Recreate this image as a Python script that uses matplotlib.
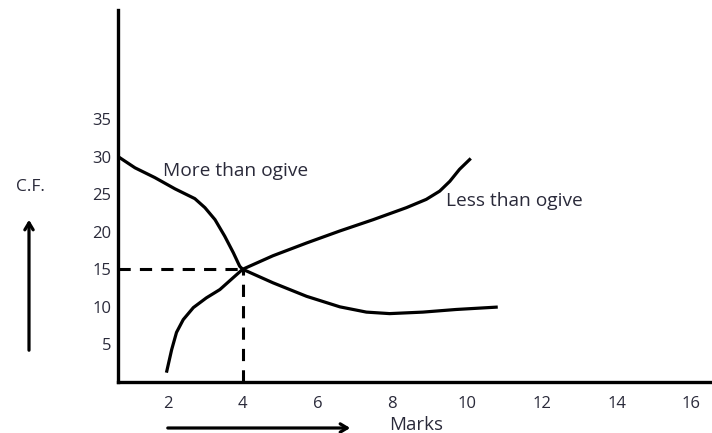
import matplotlib.pyplot as plt
from matplotlib.patches import FancyArrowPatch

# curve points (marks, cumulative frequency)
more_x = [0.665, 1.12, 1.65, 2.19, 2.72, 2.99, 3.26, 3.52, 3.75, 3.92, 4.0,
          4.81, 5.71, 6.6, 7.31, 7.93, 8.82, 9.71, 10.78]
more_y = [30.0, 28.5, 27.2, 25.7, 24.4, 23.2, 21.6, 19.4, 17.2, 15.4, 15.0,
          13.2, 11.4, 10.0, 9.3, 9.1, 9.3, 9.65, 9.96]
less_x = [1.97, 2.10, 2.23, 2.41, 2.68, 3.03, 3.39, 3.75, 4.0, 4.81, 5.71,
          6.6, 7.49, 8.38, 8.91, 9.27, 9.54, 9.80, 10.07]
less_y = [1.45, 4.3, 6.6, 8.3, 9.9, 11.2, 12.3, 13.9, 15.0, 16.8, 18.5,
          20.1, 21.6, 23.2, 24.3, 25.4, 26.7, 28.3, 29.6]
median_x, median_y = 4.0, 15.0

x_ticks = [2, 4, 6, 8, 10, 12, 14, 16]
y_ticks = [5, 10, 15, 20, 25, 30, 35]

txt = '#2a2a3a'
plt.rcParams['font.family'] = ['Open Sans', 'DejaVu Sans']

fig = plt.figure(figsize=(7.12, 4.33), dpi=100)
ax = fig.add_axes([118 / 712, 51 / 433, 592 / 712, 372 / 433])

ax.plot(more_x, more_y, color='black', lw=2.3, solid_joinstyle='round')
ax.plot(less_x, less_y, color='black', lw=2.3, solid_joinstyle='round')
ax.plot([0.665, median_x], [median_y, median_y], color='black', lw=2.2, ls=(0, (4, 3)))
ax.plot([median_x, median_x], [0, median_y], color='black', lw=2.2, ls=(0, (4, 3)))

ax.text(1.87, 28.1, 'More than ogive', fontsize=13.8, color=txt, va='center')
ax.text(9.45, 24.1, 'Less than ogive', fontsize=13.8, color=txt, va='center')

ax.set_xlim(0.665, 16.5)
ax.set_ylim(0, 49.5)
ax.set_xticks(x_ticks)
ax.set_yticks(y_ticks)
ax.tick_params(length=0, labelsize=12, labelcolor=txt)
ax.tick_params(axis='x', pad=10)
ax.tick_params(axis='y', pad=5)
for s in ['top', 'right']:
    ax.spines[s].set_visible(False)
for s in ['left', 'bottom']:
    ax.spines[s].set_linewidth(2.4)

# axis captions and arrows outside the plot
fig.text(30 / 712, 1 - 187 / 433, 'C.F.', fontsize=12.5, color=txt, ha='center', va='center')
fig.text(416 / 712, 1 - 425 / 433, 'Marks', fontsize=13.5, color=txt, ha='center', va='center')
fig.add_artist(FancyArrowPatch(
    (29 / 712, 1 - 353 / 433), (29 / 712, 1 - 217 / 433), transform=fig.transFigure,
    arrowstyle='->,head_length=5,head_width=3', lw=2.3, color='black'))
fig.add_artist(FancyArrowPatch(
    (165 / 712, 1 - 428 / 433), (353 / 712, 1 - 428 / 433), transform=fig.transFigure,
    arrowstyle='->,head_length=5,head_width=3', lw=2.3, color='black'))

plt.savefig('out.png', dpi=100)
